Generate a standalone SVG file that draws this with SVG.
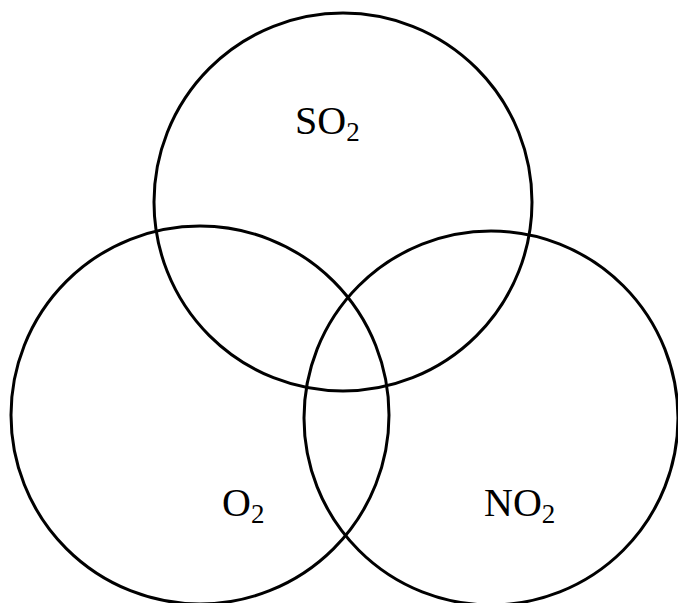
<svg xmlns="http://www.w3.org/2000/svg" width="678" height="603" viewBox="0 0 678 603">
<style>
.c{fill:none;stroke:#000;stroke-width:3}
.t{font-family:"Liberation Serif","Times New Roman",serif;font-size:40px;fill:#000}
.s{font-size:27px}
</style>
<rect width="678" height="603" fill="#fff"/>
<g id="so2">
<circle class="c" cx="343" cy="202" r="189"/>
<text class="t" x="295" y="134">SO<tspan class="s" dy="7">2</tspan></text>
</g>
<g id="o2">
<circle class="c" cx="200" cy="415" r="189"/>
<text class="t" x="222" y="516">O<tspan class="s" dy="7">2</tspan></text>
</g>
<g id="no2">
<circle class="c" cx="491" cy="418" r="187"/>
<text class="t" x="484" y="516">NO<tspan class="s" dy="7">2</tspan></text>
</g>
<g id="connectors"/>
</svg>
